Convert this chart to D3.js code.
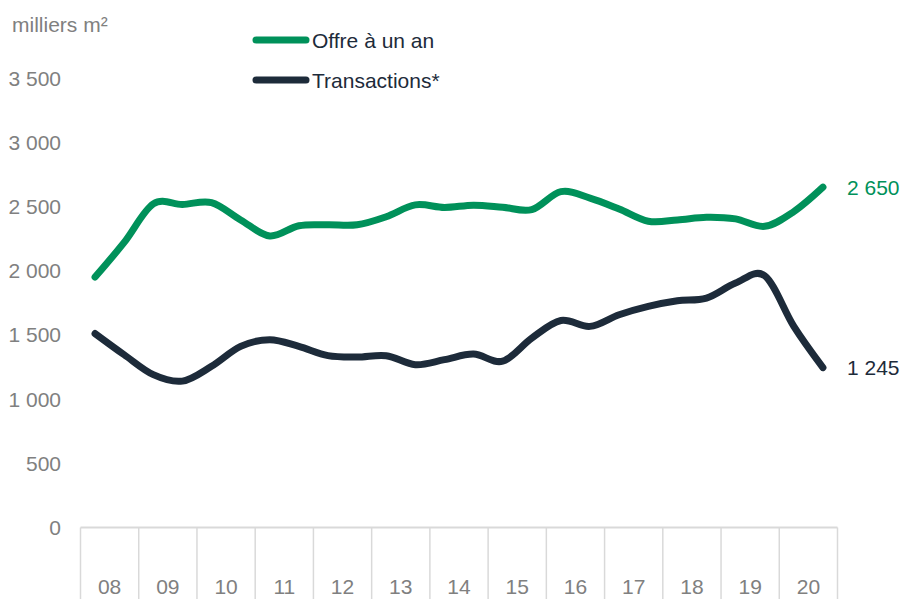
<!DOCTYPE html>
<html>
<head>
<meta charset="utf-8">
<script src="https://cdn.jsdelivr.net/npm/d3@7"></script>
<style>
    html, body { margin: 0; padding: 0; background: #fff; }
    svg { display: block; font-family: "Liberation Sans", Arial, sans-serif; }
</style>
</head>
<body>
<div id="chart"></div>
<script>
var years = ['08', '09', '10', '11', '12', '13', '14', '15', '16', '17', '18', '19', '20'];
var semesters = ['S1', 'S2'];
var yTicks = [0, 500, 1000, 1500, 2000, 2500, 3000, 3500];

// half-yearly values, milliers m²
var offre = [1950, 2220, 2520, 2515, 2530, 2395, 2270, 2350, 2357, 2357, 2420, 2512, 2492,
             2510, 2494, 2475, 2615, 2565, 2480, 2385, 2395, 2416, 2403, 2345, 2460, 2650];
var transactions = [1510, 1345, 1190, 1140, 1255, 1410, 1462, 1410, 1338, 1327, 1338, 1268, 1307,
                    1350, 1295, 1475, 1612, 1566, 1657, 1722, 1766, 1786, 1903, 1960, 1566, 1245];

var series = [
    { label: 'Offre à un an', values: offre, color: '#00915a', last: '2 650' },
    { label: 'Transactions*', values: transactions, color: '#1d2b3a', last: '1 245' }
];

var width = 902,
    height = 599;

var periods = [];
years.forEach(function(y) {
    semesters.forEach(function(s) { periods.push(s + ' ' + y); });
});

var x = d3.scaleBand().domain(years).range([80.5, 837.5]);
var xp = d3.scalePoint().domain(periods).range([80.5, 837.5]).padding(0.5);
var y = d3.scaleLinear().domain([0, 3500]).range([527.5, 78]);

var fmt = function(v) { return d3.format(',')(v).replace(/,/g, ' '); };

var svg = d3.select('#chart').append('svg')
    .attr('width', width)
    .attr('height', height);

// unit label
svg.append('text')
    .attr('x', 12)
    .attr('y', 32)
    .attr('fill', '#808080')
    .style('font-size', '21px')
    .text('milliers m²');

// y tick labels
svg.selectAll('.ytick').data(yTicks)
    .enter().append('text')
    .attr('class', 'ytick')
    .attr('x', 61)
    .attr('y', function(d) { return y(d); })
    .attr('dy', '0.36em')
    .attr('text-anchor', 'end')
    .attr('fill', '#808080')
    .style('font-size', '21px')
    .text(fmt);

// category axis: zero line + band separators
svg.append('line')
    .attr('x1', x.range()[0]).attr('x2', x.range()[1])
    .attr('y1', y(0)).attr('y2', y(0))
    .attr('stroke', '#d9d9d9')
    .attr('stroke-width', 2);

var edges = years.map(function(d) { return x(d); }).concat([x.range()[1]]);
svg.selectAll('.sep').data(edges)
    .enter().append('line')
    .attr('class', 'sep')
    .attr('x1', function(d) { return d; })
    .attr('x2', function(d) { return d; })
    .attr('y1', y(0))
    .attr('y2', height + 5)
    .attr('stroke', '#d9d9d9')
    .attr('stroke-width', 1.5);

svg.selectAll('.xlab').data(years)
    .enter().append('text')
    .attr('class', 'xlab')
    .attr('x', function(d) { return x(d) + x.bandwidth() / 2; })
    .attr('y', 594)
    .attr('text-anchor', 'middle')
    .attr('fill', '#808080')
    .style('font-size', '21px')
    .text(function(d) { return d; });

// lines
var line = d3.line()
    .x(function(d, i) { return xp(periods[i]); })
    .y(function(d) { return y(d); })
    .curve(d3.curveCatmullRom.alpha(0));

svg.selectAll('.serie').data(series)
    .enter().append('path')
    .attr('class', 'serie')
    .attr('d', function(d) { return line(d.values); })
    .attr('fill', 'none')
    .attr('stroke', function(d) { return d.color; })
    .attr('stroke-width', 7)
    .attr('stroke-linecap', 'round')
    .attr('stroke-linejoin', 'round');

// end labels
svg.selectAll('.endlab').data(series)
    .enter().append('text')
    .attr('class', 'endlab')
    .attr('x', 847)
    .attr('y', function(d) { return y(d.values[d.values.length - 1]); })
    .attr('dy', '0.36em')
    .attr('fill', function(d) { return d.color; })
    .style('font-size', '21px')
    .text(function(d) { return d.last; });

// legend
var legend = svg.selectAll('.legend').data(series)
    .enter().append('g')
    .attr('class', 'legend')
    .attr('transform', function(d, i) { return 'translate(0,' + (40 + i * 40) + ')'; });

legend.append('line')
    .attr('x1', 256).attr('x2', 306)
    .attr('y1', 0).attr('y2', 0)
    .attr('stroke', function(d) { return d.color; })
    .attr('stroke-width', 7)
    .attr('stroke-linecap', 'round');

legend.append('text')
    .attr('x', 312)
    .attr('y', 0)
    .attr('dy', '0.36em')
    .attr('fill', '#1d2b3a')
    .style('font-size', '21px')
    .text(function(d) { return d.label; });
</script>
</body>
</html>
